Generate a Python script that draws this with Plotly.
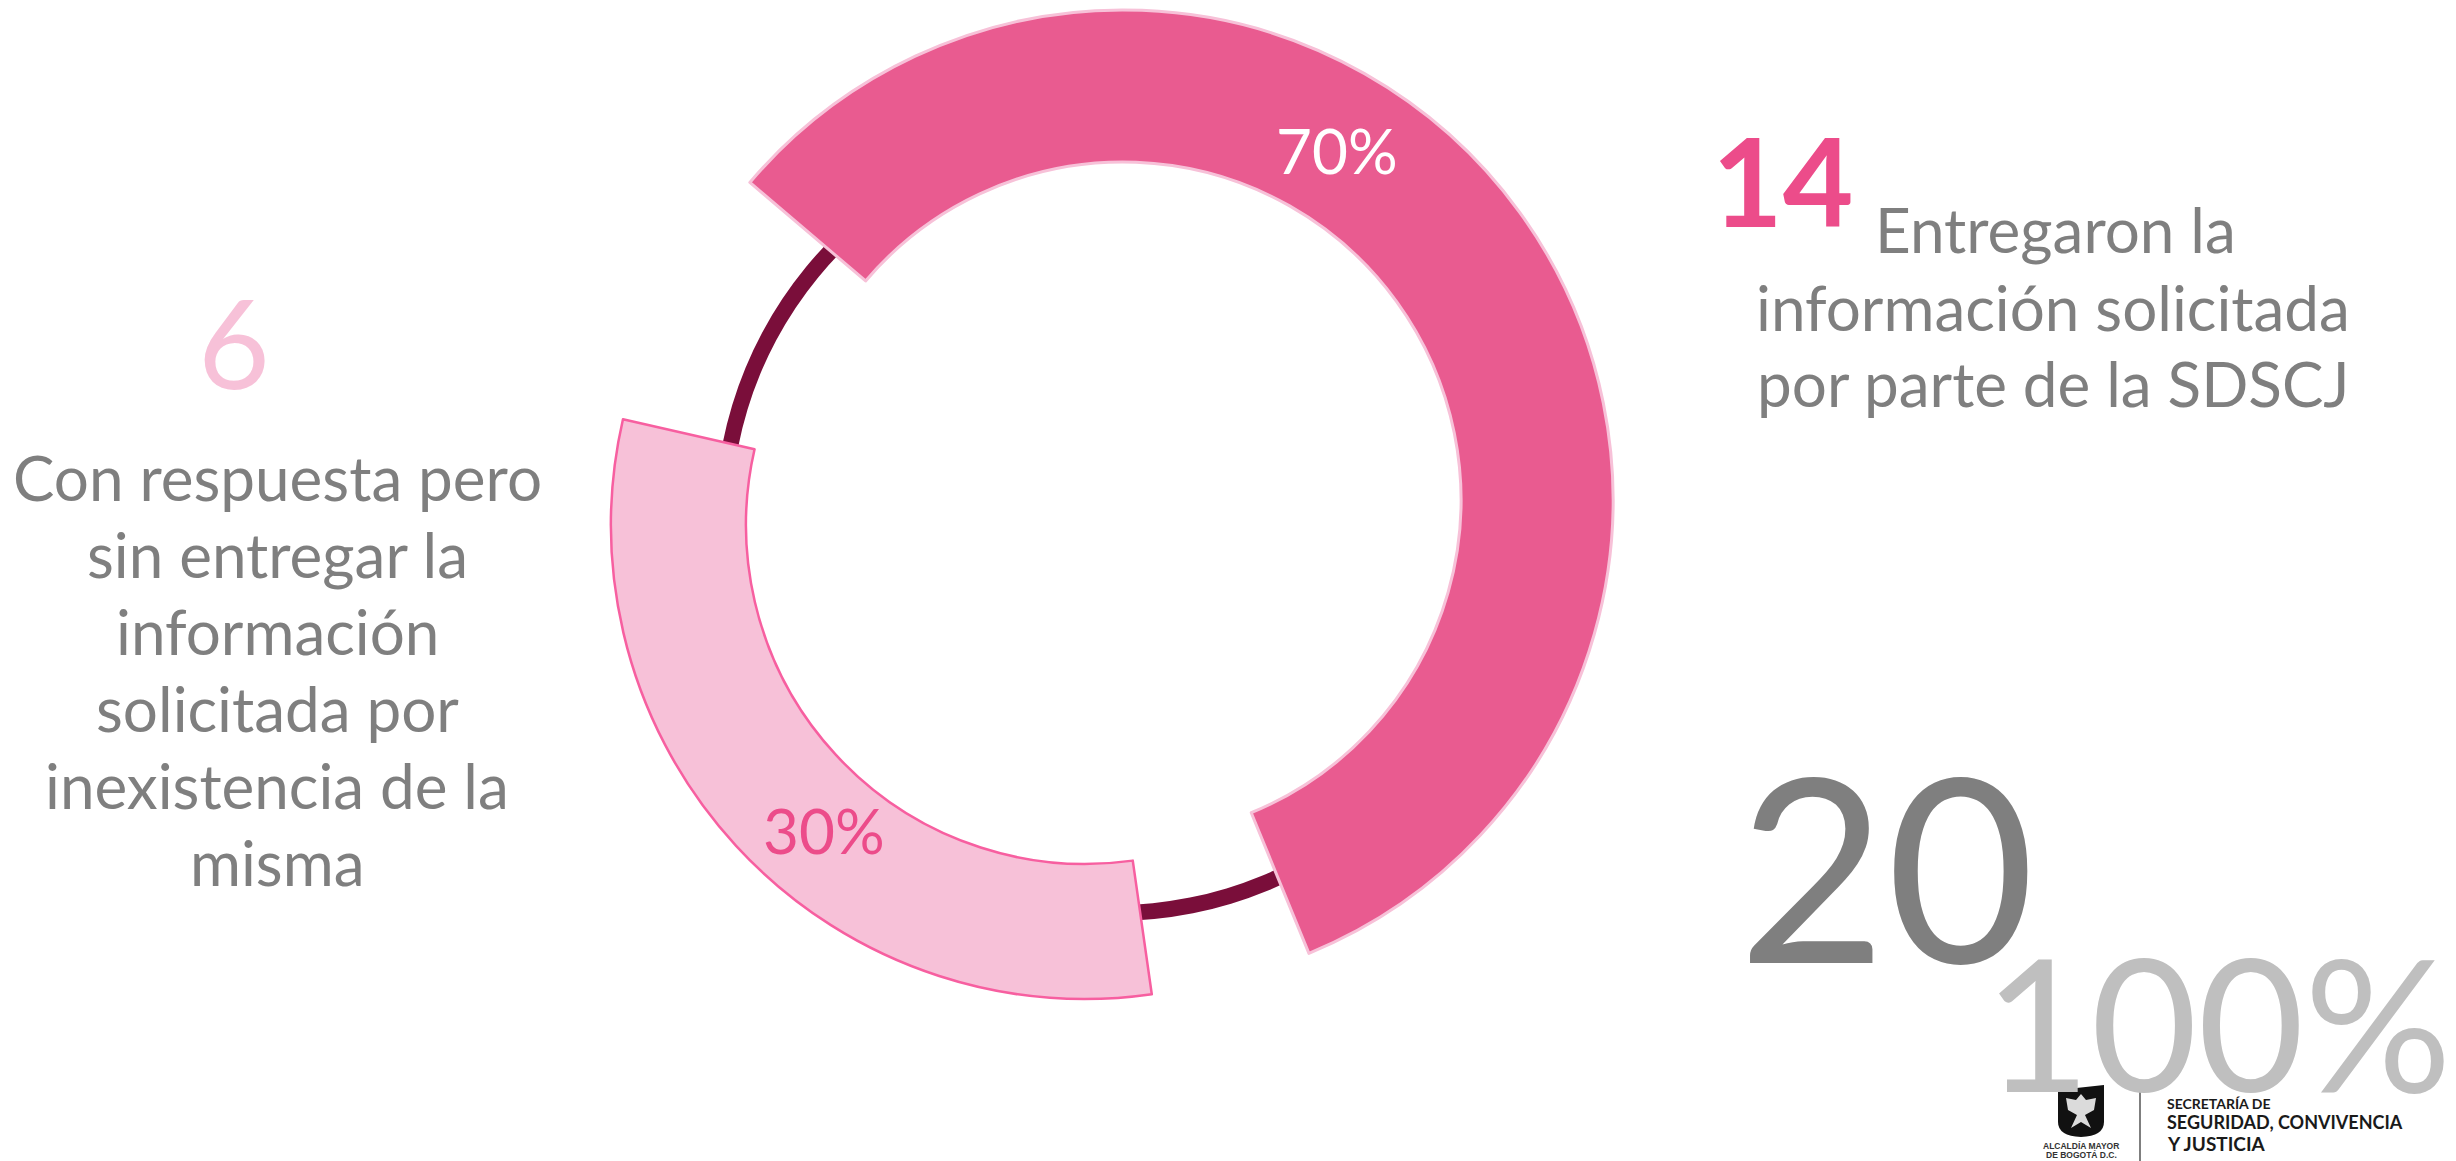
import plotly.graph_objects as go

W, H = 2456, 1161

# Values
counts = [14, 6]
shares = [70, 30]
total_count = 20
total_share = 100
# Angular spans and start angles (degrees)
arc_spans = [207.3, 111.0]
arc_starts = [310.4, 171.9]

title_lines = ["Entregaron la", "información solicitada", "por parte de la SDSCJ"]
left_lines = ["Con respuesta pero", "sin entregar la", "información", "solicitada por", "inexistencia de la", "misma"]

PINK = "#E95B90"
PINK_TXT = "#EC4C8A"
LIGHT = "#F7C1D8"
EDGE = "#F75FA0"
DARK = "#7A0E3A"
GREY = "#7F7F7F"
LGREY = "#BFBFBF"
BODY = "Lato"
BIG = "Lato"


def dom(cx, cy, r):
    return dict(x=[(cx - r) / W, (cx + r) / W], y=[1 - (cy + r) / H, 1 - (cy - r) / H])


fig = go.Figure()
fig.add_trace(go.Pie(values=[1], domain=dom(1115, 521, 400), hole=384 / 400, sort=False,
                     marker=dict(colors=[DARK], line=dict(width=0)),
                     textinfo="none", hoverinfo="skip", showlegend=False))
fig.add_trace(go.Pie(values=[arc_spans[0], 360 - arc_spans[0]], domain=dom(1123, 500, 490), hole=338 / 490,
                     sort=False, direction="clockwise", rotation=arc_starts[0],
                     marker=dict(colors=[PINK, "rgba(0,0,0,0)"], line=dict(color=[LIGHT, "rgba(0,0,0,0)"], width=[3, 0])),
                     textinfo="none", hoverinfo="skip", showlegend=False))
fig.add_trace(go.Pie(values=[arc_spans[1], 360 - arc_spans[1]], domain=dom(1085, 525, 474), hole=339 / 474,
                     sort=False, direction="clockwise", rotation=arc_starts[1],
                     marker=dict(colors=[LIGHT, "rgba(0,0,0,0)"], line=dict(color=[EDGE, "rgba(0,0,0,0)"], width=[2.5, 0])),
                     textinfo="none", hoverinfo="skip", showlegend=False))


def txt(s, x, y, size, color, family=BODY, anchor="center", weight=None):
    f = dict(size=size, color=color, family=family)
    if weight:
        f["weight"] = weight
    fig.add_annotation(text=s, x=x / W, y=1 - y / H, xref="paper", yref="paper", showarrow=False,
                       xanchor=anchor, yanchor="middle", font=f, borderpad=0, borderwidth=0)


txt(f"{shares[0]}%", 1337, 150, 62, "#FFFFFF", BIG)
txt(f"{shares[1]}%", 824, 830, 62, PINK_TXT, BIG)

txt(str(counts[0]), 1783, 180, 122, PINK_TXT, BIG, weight=700)
txt(title_lines[0], 1875, 229, 62, GREY, anchor="left")
txt(title_lines[1], 2053, 307, 62, GREY)
txt(title_lines[2], 2053, 383, 62, GREY)

txt(str(counts[1]), 234, 341, 124, LIGHT, BIG)
for i, line in enumerate(left_lines):
    txt(line, 277, 477 + i * 77, 62, GREY)

txt(str(total_count), 1886, 864, 256, GREY, BIG)
txt(f"{total_share}%", 2218, 1020, 184, LGREY, BIG)

# Logo block
LOGO = "Lato"
txt("SECRETARÍA DE", 2167, 1103, 14, "#1A1A1A", LOGO, anchor="left", weight=700)
txt("SEGURIDAD, CONVIVENCIA", 2167, 1122, 18, "#1A1A1A", LOGO, anchor="left", weight=700)
txt("Y JUSTICIA", 2167, 1143, 19, "#1A1A1A", LOGO, anchor="left", weight=700)
txt("ALCALDÍA MAYOR", 2081, 1146, 8.5, "#333333", "Liberation Sans", weight=700)
txt("DE BOGOTÁ D.C.", 2081, 1155, 8.5, "#333333", "Liberation Sans", weight=700)


def px(x, y):
    return f"{x / W:.5f} {1 - y / H:.5f}"


shield = f"M {px(2058, 1090)} L {px(2104, 1085)} L {px(2104, 1122)} Q {px(2104, 1136)} {px(2081, 1137)} Q {px(2058, 1136)} {px(2058, 1122)} Z"
eagle = (f"M {px(2081, 1094)} L {px(2086, 1100)} L {px(2096, 1098)} L {px(2094, 1110)} L {px(2085, 1115)} "
         f"L {px(2091, 1128)} L {px(2081, 1122)} L {px(2071, 1128)} L {px(2077, 1115)} L {px(2068, 1110)} L {px(2066, 1098)} L {px(2076, 1100)} Z")
shapes = [
    dict(type="path", xref="paper", yref="paper", path=shield, fillcolor="#111111", line=dict(width=0)),
    dict(type="path", xref="paper", yref="paper", path=eagle, fillcolor="#FFFFFF", line=dict(width=0), opacity=0.85),
    dict(type="line", xref="paper", yref="paper", x0=2140 / W, x1=2140 / W, y0=1 - 1090 / H, y1=0,
         line=dict(color="#555555", width=1.5)),
]

fig.update_layout(width=W, height=H, margin=dict(l=0, r=0, t=0, b=0), paper_bgcolor="white",
                  plot_bgcolor="white", showlegend=False, shapes=shapes)

fig.write_html("out.html", config=dict(displayModeBar=False), post_script="document.body.style.margin='0';")
